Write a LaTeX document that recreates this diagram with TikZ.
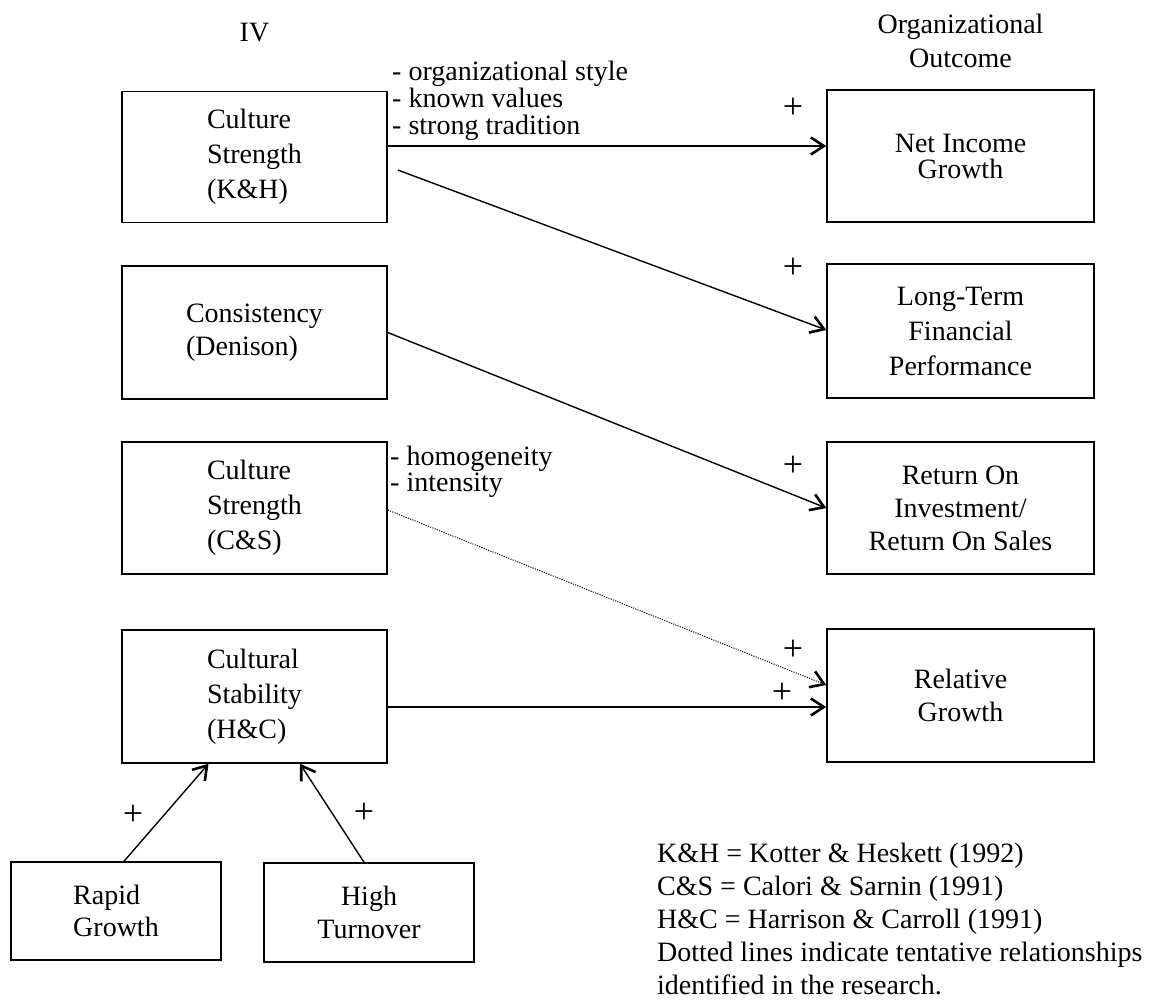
\documentclass[tikz,border=0pt]{standalone}
\usepackage{fontspec}
\setmainfont{Liberation Serif}
\usetikzlibrary{arrows.meta}
\newcommand\mytightlines{\lineskiplimit=-50pt\relax}
\begin{document}
\begin{tikzpicture}[x=1pt,y=-1pt,
  every node/.style={font=\fontsize{28}{35}\selectfont,inner sep=0pt},
  box/.style={draw,line width=1.5pt},
  lbox/.style={box,minimum width=265pt,minimum height=132pt,align=left},
  rbox/.style={box,minimum width=267pt,minimum height=133pt,align=center},
  tip/.style={-{Straight Barb[length=13pt,width=17pt,line width=2.6pt]}},
  conn/.style={line width=1.4pt,tip},
  tent/.style={line width=0.9pt,dash pattern=on 1.2pt off 1.2pt,tip},
  note/.style={align=left},
  plus/.style={font=\fontsize{36}{36}\selectfont}
]
\useasboundingbox (0,0) rectangle (1161,1001);

% headers
\node (hIV) at (254.5,33) {IV};
\node[align=center,font=\fontsize{28}{34}\selectfont] (hOO) at (960.5,41) {Organizational\\Outcome};

% left boxes
\node[lbox,minimum height=131pt] (b1) at (254.5,157) {Culture\\Strength\\(K\&H)};
\node[lbox,minimum height=133pt,font=\fontsize{28}{33}\selectfont] (b2) at (254.5,332.5) {Consistency\\(Denison)};
\node[lbox] (b3) at (254.5,508) {Culture\\Strength\\(C\&S)};
\node[lbox,minimum height=133pt] (b4) at (254.5,696.5) {Cultural\\Stability\\(H\&C)};

% bottom boxes
\node[box,minimum width=210pt,minimum height=98pt,align=left,font=\fontsize{28}{32}\selectfont] (rg) at (116,911) {Rapid\\Growth};
\node[box,minimum width=210pt,minimum height=99pt,align=center,font=\fontsize{28}{33}\selectfont] (ht) at (369,912.5) {High\\Turnover};

% right boxes
\node[rbox,minimum height=132pt,font=\fontsize{28}{26}\selectfont\mytightlines] (ni) at (960.5,156) {Net Income\\Growth};
\node[rbox,minimum height=134pt] (lt) at (960.5,331) {Long-Term\\Financial\\Performance};
\node[rbox,minimum height=132pt,font=\fontsize{28}{33}\selectfont] (ro) at (960.5,508) {Return On\\Investment/\\Return On Sales};
\node[rbox,font=\fontsize{28}{33}\selectfont] (rel) at (960.5,695.5) {Relative\\Growth};

% annotations
\node[note,anchor=north west,font=\fontsize{28}{27}\selectfont\mytightlines] (a1) at (392,61) {- organizational style\\- known values\\- strong tradition};
\node[note,anchor=north west,font=\fontsize{28}{26}\selectfont\mytightlines] (a2) at (390,446) {- homogeneity\\- intensity};

% connectors
\draw[conn] ([yshift=11pt]b1.east) -- ([yshift=10pt]ni.west);
\draw[conn] ([xshift=10pt,yshift=-13pt]b1.east) -- ([yshift=1pt]lt.west);
\draw[conn] (b2.east) -- (ro.west);
\draw[tent] ([yshift=-2pt]b3.east) -- ([yshift=10.5pt]rel.west);
\draw[conn] ([yshift=-10.5pt]b4.east) -- ([yshift=-11.5pt]rel.west);
\draw[conn] ([xshift=8pt]rg.north) -- ([xshift=-46pt]b4.south);
\draw[conn] ([xshift=-5pt]ht.north) -- ([xshift=45.5pt]b4.south);

% plus signs
\node[plus] (p1) at (793,108) {+};
\node[plus] (p2) at (793,268) {+};
\node[plus] (p3) at (793,466) {+};
\node[plus] (p4) at (793,650) {+};
\node[plus] (p5) at (782,693) {+};
\node[plus] (p6) at (133,815) {+};
\node[plus] (p7) at (364,813) {+};

% legend
\node[align=left,anchor=north west,font=\fontsize{28}{33}\selectfont] (leg) at (657,843) {K\&H = Kotter \& Heskett (1992)\\C\&S = Calori \& Sarnin (1991)\\H\&C = Harrison \& Carroll (1991)\\Dotted lines indicate tentative relationships\\identified in the research.};
\end{tikzpicture}
\end{document}
